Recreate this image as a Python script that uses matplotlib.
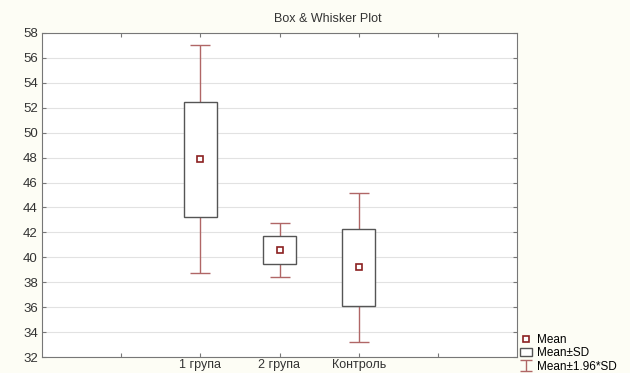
import numpy as np
import matplotlib
matplotlib.use("Agg")
import matplotlib.pyplot as plt

plt.rcParams['font.family'] = ['Liberation Sans', 'DejaVu Sans']

groups = ["1 група", "2 група", "Контроль"]
means = [47.9, 40.6, 39.2]
box_low = [43.2, 39.5, 36.1]      # Mean-SD
box_high = [52.5, 41.7, 42.25]    # Mean+SD
whisk_low = [38.75, 38.45, 33.2]  # Mean-1.96*SD
whisk_high = [57.0, 42.75, 45.2]  # Mean+1.96*SD

x = np.array([2, 3, 4])
means = np.array(means)
box_low = np.array(box_low)
box_high = np.array(box_high)
whisk_low = np.array(whisk_low)
whisk_high = np.array(whisk_high)

fig = plt.figure(figsize=(6.3, 3.73), dpi=100, facecolor="#fdfdf5")
ax = fig.add_axes([42 / 630, 1 - 357 / 373, 475 / 630, 324 / 373])
ax.set_facecolor("white")

whisk_color = "#b06666"
ax.errorbar(x, means, yerr=[means - whisk_low, whisk_high - means],
            fmt="none", ecolor=whisk_color, elinewidth=1.0,
            capsize=7.5, capthick=1.0, zorder=2)
bars = ax.bar(x, box_high - box_low, bottom=box_low, width=0.42,
              facecolor="white", edgecolor="#555555", linewidth=1.0,
              zorder=3)
pts, = ax.plot(x, means, linestyle="none", marker="s", markersize=5,
               markerfacecolor="white", markeredgecolor="#8b2020",
               markeredgewidth=1.2, zorder=4)
# legend proxy for the whisker symbol (nothing drawn in the axes)
eb_proxy = ax.errorbar([np.nan], [np.nan], yerr=[1.0], fmt="none",
                       ecolor=whisk_color, elinewidth=1.0, capsize=4,
                       capthick=1.0)

ax.set_xlim(0, 6)
ax.set_ylim(32, 58)
ax.set_yticks(np.arange(32, 59, 2))
ax.set_xticks([1, 2, 3, 4, 5])
ax.set_xticklabels(["", *groups, ""])
ax.yaxis.grid(True, color="#e2e2e2", linewidth=0.8)
ax.set_axisbelow(True)
for s in ax.spines.values():
    s.set_color("#777777")
ax.tick_params(axis="both", direction="in", length=3, color="#777777",
               labelsize=9.5, labelcolor="#333333", top=True, right=True)
ax.tick_params(axis="x", pad=1.5, labelsize=9)
ax.tick_params(axis="y", pad=3)

fig.text(328 / 630, 1 - 19 / 373, "Box & Whisker Plot", ha="center",
         va="center", fontsize=9, color="#333333")

fig.legend([pts, bars, eb_proxy], ["Mean", "Mean±SD", "Mean±1.96*SD"],
           loc="lower left", bbox_to_anchor=(512 / 630, -0.021),
           frameon=False, fontsize=8.5, handlelength=1.0, handletextpad=0.4,
           labelspacing=0.1, borderpad=0.2)

fig.savefig("out.png", dpi=100, facecolor=fig.get_facecolor())
